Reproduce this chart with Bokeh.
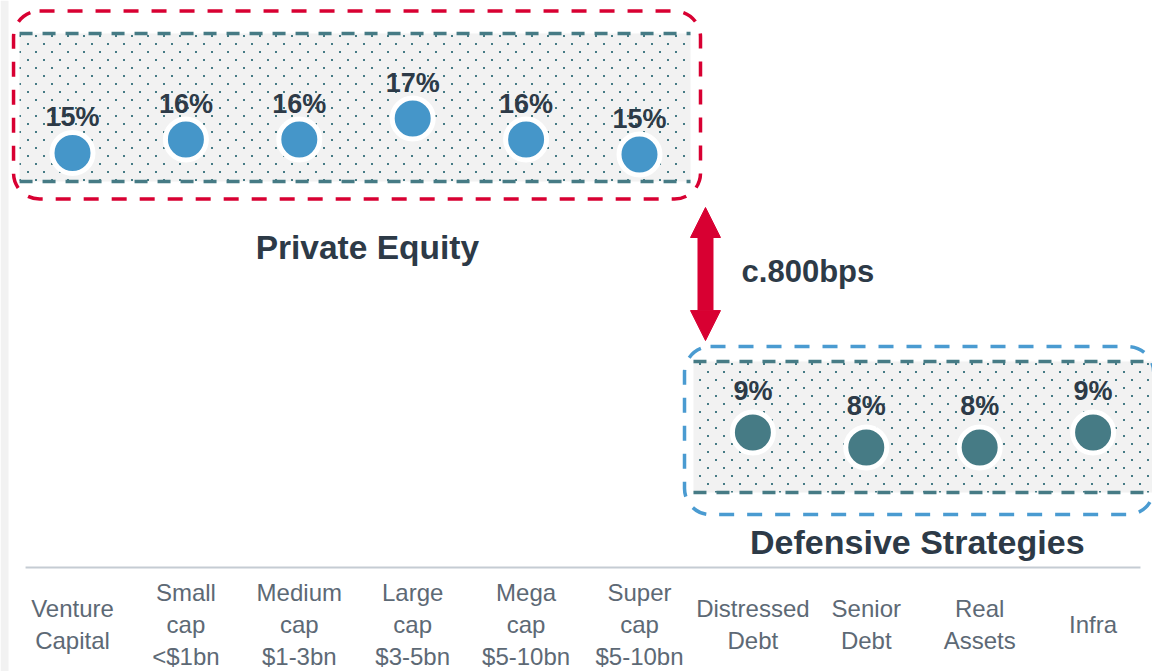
import base64
import numpy as np
from bokeh.plotting import figure
from bokeh.models import (Range1d, ColumnDataSource, BoxAnnotation, Arrow, NormalHead, Label,
                          ImageURLTexture)
from bokeh.core.properties import value
from bokeh.embed import file_html
from bokeh.resources import INLINE

# ---------------- data ----------------
category_labels = ["Venture\nCapital", "Small\ncap\n<$1bn", "Medium\ncap\n$1-3bn",
                   "Large\ncap\n$3-5bn", "Mega\ncap\n$5-10bn", "Super\ncap\n$5-10bn",
                   "Distressed\nDebt", "Senior\nDebt", "Real\nAssets", "Infra"]
pe_values = [15.1, 16.0, 16.0, 17.4, 16.0, 15.0]      # Private Equity returns (%)
def_values = [9.0, 8.0, 8.0, 9.0]                      # Defensive strategies returns (%)
group_names = ["Private Equity", "Defensive Strategies"]
spread_label = "c.800bps"

FONT = "Liberation Sans"
DARK = "#2d3a47"
RED = "#d80032"
BLUE_BOX = "#4a9bd1"
TEAL = "#467b85"
PE_BLUE = "#4596c9"

pe_x = np.arange(len(pe_values))
def_x = np.arange(len(pe_values), len(pe_values) + len(def_values))
cat_x = np.arange(len(category_labels))

pe_src = ColumnDataSource(dict(x=pe_x, y=pe_values,
                               label=[f"{v:.0f}%" for v in pe_values]))
def_src = ColumnDataSource(dict(x=def_x, y=def_values,
                                label=[f"{v:.0f}%" for v in def_values]))
cat_src = ColumnDataSource(dict(x=cat_x, y=[-3.8] * len(cat_x), text=category_labels))

# ---------------- figure ----------------
p = figure(width=1152, height=671, output_backend="svg", toolbar_location=None,
           x_range=Range1d(-0.635, 9.524), y_range=Range1d(-6.93, 37.8),
           x_axis_location=None, y_axis_location=None, min_border=0)
p.extra_y_ranges = {"pe": Range1d(-19.47, 25.27)}
p.outline_line_color = None
p.xgrid.visible = False
p.ygrid.visible = False
p.background_fill_color = "white"
p.border_fill_color = "white"

# light strip at the far left
p.add_layout(BoxAnnotation(right=-0.564, fill_color="#f2f2f2", fill_alpha=1,
                           line_alpha=0, level="underlay"))

# staggered dot texture
tile = ('<svg xmlns="http://www.w3.org/2000/svg" width="16" height="16">'
        '<rect x="3" y="3" width="2" height="2" fill="#467b85"/>'
        '<rect x="11" y="11" width="2" height="2" fill="#467b85"/></svg>')
dots = ImageURLTexture(url="data:image/svg+xml;base64," +
                       base64.b64encode(tile.encode()).decode())

# shaded bands (dotted)
p.quad(left=[-0.467], right=[5.45], bottom=[13.2], top=[23.07], y_range_name="pe",
       fill_color="#f2f2f2", line_alpha=0, hatch_pattern=value("dots"),
       hatch_extra={"dots": dots}, hatch_scale=16)
p.quad(left=[5.476], right=[9.8], bottom=[5.0], top=[13.73],
       fill_color="#f2f2f2", line_alpha=0, hatch_pattern=value("dots"),
       hatch_extra={"dots": dots}, hatch_scale=16)

p.segment(x0=[-0.467, -0.467], x1=[5.45, 5.45], y0=[13.2, 23.07], y1=[13.2, 23.07],
          y_range_name="pe", line_color=TEAL, line_width=3.5, line_dash="13 10")
p.segment(x0=[5.476, 5.476], x1=[9.8, 9.8], y0=[5.0, 13.73], y1=[5.0, 13.73],
          line_color=TEAL, line_width=3.5, line_dash="13 10")

# rounded dashed group outlines
p.add_layout(BoxAnnotation(left=-0.52, right=5.538, bottom=12.03, top=24.57, y_range_name="pe",
                           fill_alpha=0, line_color=RED, line_alpha=1, line_width=3.5,
                           line_dash="15 13", border_radius=26))
p.add_layout(BoxAnnotation(left=5.397, right=9.535, bottom=3.53, top=14.73,
                           fill_alpha=0, line_color=BLUE_BOX, line_alpha=1, line_width=3.5,
                           line_dash="15 13", border_radius=26))

# baseline
p.segment(x0=[-0.414], x1=[9.418], y0=[0], y1=[0], line_color="#c5ccd3", line_width=2)

# points
p.scatter("x", "y", source=pe_src, y_range_name="pe", size=41, fill_color=PE_BLUE,
          line_color="white", line_width=5)
p.scatter("x", "y", source=def_src, size=41, fill_color=TEAL,
          line_color="white", line_width=5)

# value labels
p.text("x", "y", text="label", source=pe_src, y_range_name="pe", y_offset=-36,
       text_font=value(FONT), text_font_style="bold", text_font_size="27px",
       text_align="center", text_baseline="middle", text_color=DARK)
p.text("x", "y", text="label", source=def_src, y_offset=-42,
       text_font=value(FONT), text_font_style="bold", text_font_size="27px",
       text_align="center", text_baseline="middle", text_color=DARK)

# category labels
p.text("x", "y", text="text", source=cat_src, text_font=value(FONT),
       text_font_size="24px", text_line_height=1.2, text_align="center",
       text_baseline="middle", text_color="#5d6975")

# spread arrow
p.add_layout(Arrow(x_start=5.582, y_start=15.13, x_end=5.582, y_end=24.0,
                   line_color=RED, line_width=16,
                   start=NormalHead(size=30, fill_color=RED, line_color=RED, line_width=1),
                   end=NormalHead(size=30, fill_color=RED, line_color=RED, line_width=1)))

p.add_layout(Label(x=5.9, y=19.73, text=spread_label, text_font=FONT, text_font_style="bold",
                   text_font_size="31px", text_align="left", text_baseline="middle",
                   text_color=DARK))
p.add_layout(Label(x=2.6, y=8.8, y_range_name="pe", text=group_names[0], text_font=FONT,
                   text_font_style="bold", text_font_size="33.5px", text_align="center",
                   text_baseline="middle", text_color=DARK))
p.add_layout(Label(x=7.45, y=1.73, text=group_names[1], text_font=FONT,
                   text_font_style="bold", text_font_size="34px", text_align="center",
                   text_baseline="middle", text_color=DARK))

open("out.html", "w").write(file_html(p, INLINE))
